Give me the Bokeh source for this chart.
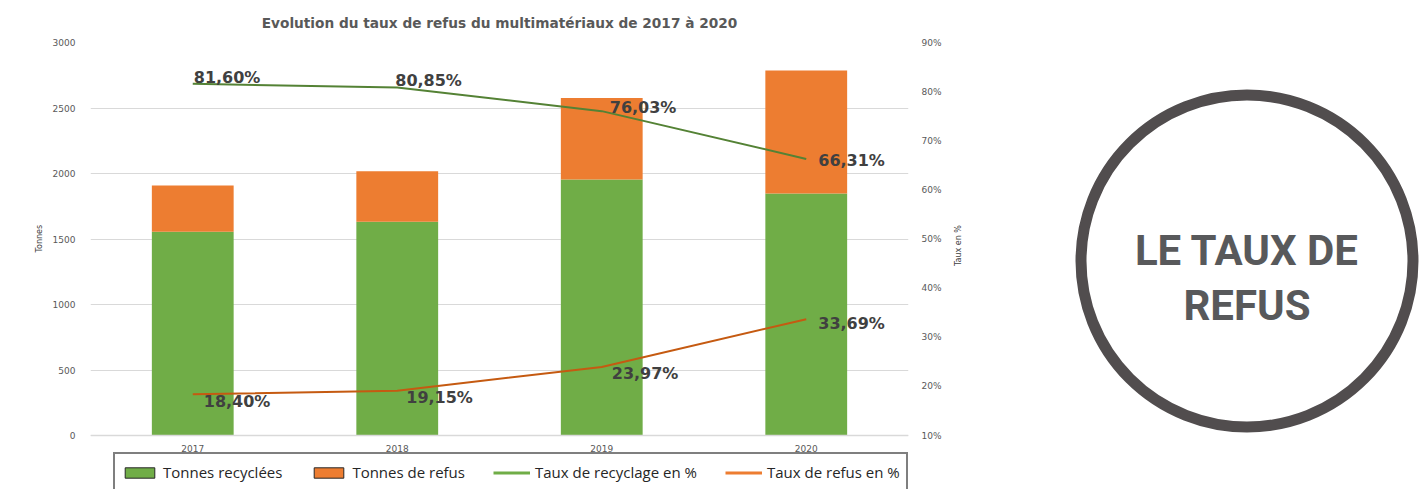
import math
from bokeh.plotting import figure
from bokeh.models import (FactorRange, Range1d, LinearAxis, FixedTicker, PrintfTickFormatter,
                          ColumnDataSource, Legend, LegendItem, Label, Title)
from bokeh.layouts import row
from bokeh.embed import file_html
from bokeh.resources import INLINE
from bokeh.core.properties import value

# ---------------- data ----------------
years = ["2017", "2018", "2019", "2020"]
tonnes_recyclees = [1556, 1632, 1954, 1848]
tonnes_refus = [353, 385, 622, 939]
taux_recyclage = [81.60, 80.85, 76.03, 66.31]
taux_refus = [18.40, 19.15, 23.97, 33.69]
left_ticks = [0, 500, 1000, 1500, 2000, 2500, 3000]
right_ticks = [10, 20, 30, 40, 50, 60, 70, 80, 90]

TITLE = "Evolution du taux de refus du multimatériaux de 2017 à 2020"
LEGEND_LABELS = ["Tonnes recyclées", "Tonnes de refus", "Taux de recyclage en %", "Taux de refus en %"]
BADGE_LINES = ["LE TAUX DE", "REFUS"]

# ---------------- layout / styles ----------------
W_CHART, W_BADGE, H = 1008, 418, 489
TOP = 41          # frame top (px)
ZERO_PX = 435     # pixel row of the value axis origin
PLOT_H = ZERO_PX - TOP
BELOW = H - ZERO_PX  # room under the axis for tick labels and legend
GREEN = "#70ad47"
ORANGE = "#ed7d31"
GREEN_LINE = "#548235"
ORANGE_LINE = "#c55a11"
GRID = "#d9d9d9"
TXT = "#595959"
rec_dx = [1, -2, 8, 12]
rec_dy = [-6, -7, -4, 2]
ref_dx = [11, 9, 10, 12]
ref_dy = [7, 7, 7, 4]


def fmt(v):
    return f"{v:.2f}".replace(".", ",") + "%"


src = ColumnDataSource(dict(
    years=years,
    recyclees=tonnes_recyclees,
    refus=tonnes_refus,
    taux_rec=taux_recyclage,
    taux_ref=taux_refus,
    lab_rec=[fmt(v) for v in taux_recyclage],
    lab_ref=[fmt(v) for v in taux_refus],
    rec_dx=rec_dx, rec_dy=rec_dy, ref_dx=ref_dx, ref_dy=ref_dy,
))

lmin, lmax = left_ticks[0], left_ticks[-1]
rmin, rmax = right_ticks[0], right_ticks[-1]
# extend the frame below the origin so the legend fits inside it
y_left = Range1d(lmin - (lmax - lmin) * BELOW / PLOT_H, lmax)
y_right = Range1d(rmin - (rmax - rmin) * BELOW / PLOT_H, rmax)

p = figure(x_range=FactorRange(factors=years), y_range=y_left,
           width=W_CHART, height=H, output_backend="svg", toolbar_location=None,
           min_border_left=90, min_border_right=100, min_border_top=TOP, min_border_bottom=0)
p.outline_line_color = None
# "swatch" range: used only by the legend-sample renderers, which fall far below the frame
p.extra_y_ranges = {"pct": y_right, "swatch": Range1d(5000, 5001)}

p.title.text = TITLE
p.title.align = "center"
p.title.vertical_align = "bottom"
p.title.text_font = "DejaVu Sans"
p.title.text_font_size = "13.7px"
p.title.text_font_style = "bold"
p.title.text_color = TXT
p.title.standoff = 24

# legend samples: same data, drawn on the off-frame "swatch" range so only the legend shows them
r1 = p.vbar(x="years", top="recyclees", width=0.4, source=src, y_range_name="swatch",
            fill_color=GREEN, line_color="#262626", line_width=1)
r2 = p.vbar(x="years", top="refus", width=0.4, source=src, y_range_name="swatch",
            fill_color=ORANGE, line_color="#262626", line_width=1)
r3 = p.line(x="years", y="taux_rec", source=src, y_range_name="swatch", line_color=GREEN, line_width=3)
r4 = p.line(x="years", y="taux_ref", source=src, y_range_name="swatch", line_color=ORANGE, line_width=3)

# bars
p.vbar_stack(["recyclees", "refus"], x="years", width=0.4, color=[GREEN, ORANGE],
             line_color=None, source=src)

# lines
p.line(x="years", y="taux_rec", y_range_name="pct", line_color=GREEN_LINE, line_width=2, source=src)
p.line(x="years", y="taux_ref", y_range_name="pct", line_color=ORANGE_LINE, line_width=2, source=src)

# data labels
for col, ycol, dx, dy in (("lab_rec", "taux_rec", "rec_dx", "rec_dy"),
                          ("lab_ref", "taux_ref", "ref_dx", "ref_dy")):
    p.text(x="years", y=ycol, text=col, y_range_name="pct", x_offset=dx, y_offset=dy,
           text_font=value("DejaVu Sans"), text_font_style="bold", text_font_size="16px",
           text_color="#404040", text_align="left", text_baseline="middle", source=src)

# axes
p.xgrid.grid_line_color = None
p.ygrid.grid_line_color = GRID
p.ygrid.grid_line_width = 1

xa = p.xaxis[0]
xa.fixed_location = lmin
xa.axis_line_color = GRID
xa.axis_line_width = 1.5
xa.major_tick_line_color = None
xa.minor_tick_line_color = None
xa.major_label_text_font = "DejaVu Sans"
xa.major_label_text_font_size = "9px"
xa.major_label_text_color = TXT
xa.major_label_standoff = 3

ya = p.yaxis[0]
ya.ticker = FixedTicker(ticks=left_ticks)
ya.axis_line_color = None
ya.major_tick_line_color = None
ya.minor_tick_line_color = None
ya.major_label_text_font = "DejaVu Sans"
ya.major_label_text_font_size = "9px"
ya.major_label_text_color = TXT
ya.major_label_standoff = 9

ra = LinearAxis(y_range_name="pct", ticker=FixedTicker(ticks=right_ticks),
                formatter=PrintfTickFormatter(format="%d%%"))
ra.axis_line_color = None
ra.major_tick_line_color = None
ra.minor_tick_line_color = None
ra.major_label_text_font = "DejaVu Sans"
ra.major_label_text_font_size = "9px"
ra.major_label_text_color = TXT
ra.major_label_standoff = 7
ra.axis_label = "Taux en %"
ra.axis_label_text_font = "DejaVu Sans"
ra.axis_label_text_font_size = "8px"
ra.axis_label_text_font_style = "normal"
ra.axis_label_text_color = "#404040"
ra.axis_label_standoff = 14
try:
    ra.axis_label_orientation = math.pi / 2
except Exception:
    pass
p.add_layout(ra, "right")

# left axis title ("Tonnes"), positioned along the axis
p.add_layout(Title(text="Tonnes", align="left", offset=237, standoff=12,
                   text_font="DejaVu Sans", text_font_size="8px", text_font_style="normal",
                   text_color="#404040"), "left")

legend = Legend(items=[LegendItem(label=lab, renderers=[r]) for lab, r in zip(LEGEND_LABELS, [r1, r2, r3, r4])],
                location=(23, -3), orientation="horizontal",
                glyph_width=37, glyph_height=13, label_standoff=5, spacing=28, padding=6,
                label_height=24,
                label_text_font="Open Sans", label_text_font_size="15px", label_text_color="#262626",
                border_line_color="black", border_line_width=2,
                background_fill_color="white", background_fill_alpha=1)
p.add_layout(legend)

# ---------------- badge ----------------
q = figure(width=W_BADGE, height=H, x_range=Range1d(0, W_BADGE), y_range=Range1d(H, TOP),
           output_backend="svg", toolbar_location=None,
           min_border_left=0, min_border_right=0, min_border_top=TOP, min_border_bottom=0,
           x_axis_type=None, y_axis_type=None)
q.grid.visible = False
q.outline_line_color = None
q.scatter(x=[238.5], y=[260], size=332, marker="circle", fill_color=None,
          line_color="#514d4e", line_width=11)
for txt, yy in zip(BADGE_LINES, [249, 305]):
    q.add_layout(Label(x=238.5, y=yy, text=txt, text_align="center", text_baseline="middle",
                       text_font="Roboto", text_font_style="bold", text_font_size="42px",
                       text_color="#58595b"))

layout = row(p, q)
open("out.html", "w").write(file_html(layout, INLINE))
